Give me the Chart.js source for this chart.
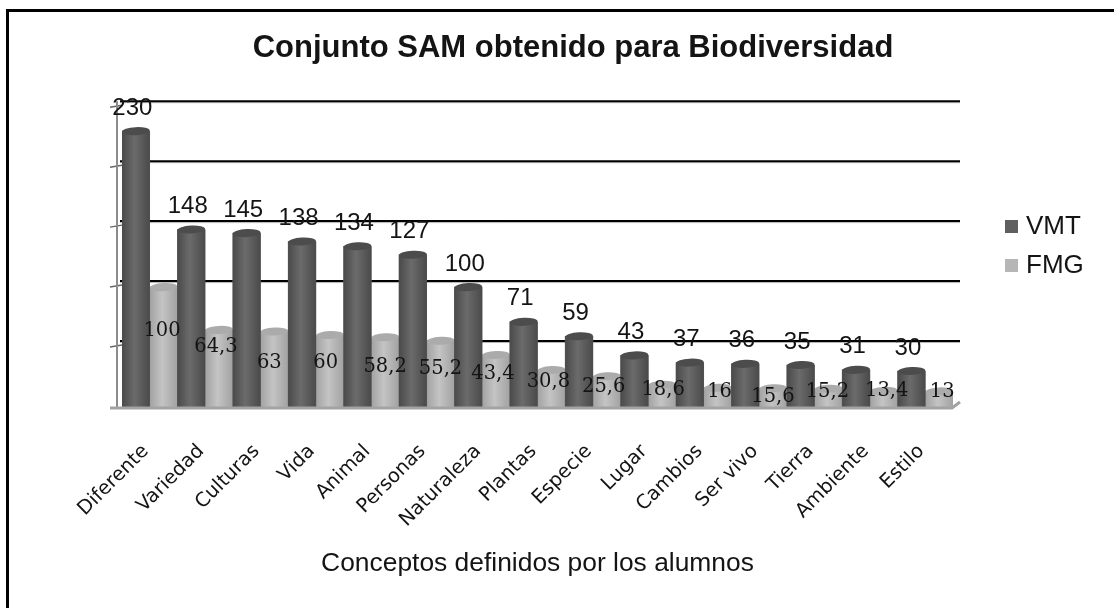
<!DOCTYPE html>
<html><head><meta charset="utf-8">
<script src="https://cdn.jsdelivr.net/npm/chart.js@4"></script>
<style>html,body{margin:0;padding:0;background:#fff;overflow:hidden}canvas{display:block}</style>
</head><body><canvas id="c" width="1114" height="608"></canvas>
<script>
const categories = ["Diferente","Variedad","Culturas","Vida","Animal","Personas","Naturaleza","Plantas","Especie","Lugar","Cambios","Ser vivo","Tierra","Ambiente","Estilo"];
const vmt = [230,148,145,138,134,127,100,71,59,43,37,36,35,31,30];
const fmg = [100,64.3,63,60,58.2,55.2,43.4,30.8,25.6,18.6,16,15.6,15.2,13.4,13];
const yTicks = [0,50,100,150,200,250];
// hand-placed FMG label nudges seen in the reference (px): sideways, and lift above the floor
const fmgLabelDx = [-1.5,-3,-5,-4,0,0,-3,-3,-3,1,2,0,-1,3,3];
const fmgLabelLift = [76,60,44,44,40,38,33,25,20,17,15,10,15,16,15];

const fmtComma = v => String(v).replace('.', ',');
const SANS = '"Liberation Sans", Arial, sans-serif';
const INK = '#141414';

function shade(ctx, el, edge, mid, topFill){
  const hw = el.width/2, l = el.x-hw, r = el.x+hw;
  const g = ctx.createLinearGradient(l,0,r,0);
  g.addColorStop(0, edge); g.addColorStop(0.45, mid); g.addColorStop(1, edge);
  ctx.fillStyle = g;
  ctx.fillRect(l, el.y, el.width, el.base-el.y);
  ctx.fillStyle = topFill;
  ctx.beginPath(); ctx.ellipse(el.x, el.y, hw, 4, -0.05, 0, Math.PI*2); ctx.fill();
}

const cylinder3d = {
  id:'cylinder3d',
  beforeLayout(chart){
    const L = chart.legend;
    if(!L._wide){ L._wide = true;
      const fit = L.fit;
      L.fit = function(){ fit.call(this); this.width = 161; };
    }
  },
  afterLayout(chart){
    const L = chart.legend;
    L.left = 997; L.top -= 58; L.bottom -= 58;
  },
  beforeDraw(chart){
    const c = chart.ctx;
    c.save(); c.fillStyle='#fff'; c.fillRect(0,0,chart.width,chart.height);
    c.fillStyle='#000';
    c.fillRect(6,9,chart.width-6,3);
    c.fillRect(6,9,3,chart.height-9);
    c.restore();
  },
  beforeDatasetsDraw(chart){
    const c = chart.ctx, y = chart.scales.y, a = chart.chartArea;
    c.save();
    y.ticks.forEach(t=>{
      const py = y.getPixelForValue(t.value);
      if(t.value>0){
        c.strokeStyle='#b5b5b5'; c.lineWidth=1;
        c.beginPath(); c.moveTo(a.left-2,py-4.5); c.lineTo(960,py-4.5); c.stroke();
        c.strokeStyle='#000'; c.lineWidth=2;
        c.beginPath(); c.moveTo(a.left-2,py-6); c.lineTo(960,py-6); c.stroke();
        c.strokeStyle='#666'; c.lineWidth=1.5;
        c.beginPath(); c.moveTo(a.left-12,py); c.lineTo(a.left,py-2); c.stroke();
      }
    });
    c.strokeStyle='#8c8c8c'; c.lineWidth=2;
    c.beginPath(); c.moveTo(a.left-5,y.getPixelForValue(250)-6); c.lineTo(a.left-5,a.bottom); c.stroke();
    c.restore();
  },
  afterDatasetDraw(chart,args){
    const c = chart.ctx, meta = chart.getDatasetMeta(args.index);
    c.save();
    meta.data.forEach(el=>{
      if(args.index===0) shade(c,el,'#4a4a4a','#6b6b6b','#4c4c4c');
      else shade(c,el,'#a2a2a2','#c4c4c4','#ababab');
    });
    c.restore();
  },
  afterDatasetsDraw(chart){
    const c = chart.ctx, a = chart.chartArea;
    c.save();
    c.strokeStyle='#a3a3a3'; c.lineWidth=3;
    c.beginPath(); c.moveTo(a.left-12,a.bottom+1); c.lineTo(952,a.bottom+1); c.lineTo(960,a.bottom-5); c.stroke();
    c.textAlign='center'; c.textBaseline='middle';
    c.fillStyle=INK;
    c.font='19.5px "DejaVu Serif", serif';
    chart.getDatasetMeta(1).data.forEach((el,i)=>{
      c.fillText(fmtComma(fmg[i]), el.x+fmgLabelDx[i], a.bottom-fmgLabelLift[i]);
    });
    c.font='24px '+SANS;
    chart.getDatasetMeta(0).data.forEach((el,i)=>{
      c.fillText(String(vmt[i]), el.x-3.5, el.y-23);
    });
    c.restore();
  }
};

new Chart(document.getElementById('c').getContext('2d'),{
  type:'bar',
  data:{labels:categories,datasets:[
    {label:'VMT',data:vmt,backgroundColor:'#5f5f5f',barPercentage:1,categoryPercentage:1},
    {label:'FMG',data:fmg,backgroundColor:'#b6b6b6',barPercentage:1,categoryPercentage:1}
  ]},
  plugins:[cylinder3d],
  options:{
    responsive:false,animation:false,
    layout:{padding:{left:32,right:0,top:0,bottom:0}},
    plugins:{
      tooltip:{enabled:false},
      title:{display:true,text:'Conjunto SAM obtenido para Biodiversidad',color:INK,
        font:{family:SANS,size:31,weight:'bold'},padding:{top:30,bottom:40}},
      legend:{display:true,position:'right',align:'center',
        labels:{color:INK,font:{family:SANS,size:26},boxWidth:3,boxHeight:3,padding:13,
          generateLabels(chart){
            return Chart.defaults.plugins.legend.labels.generateLabels(chart).map(it=>{
              it.lineWidth=10; it.strokeStyle=it.fillStyle; return it;});
          }}}
    },
    scales:{
      x:{grid:{display:false},border:{display:false},
        afterFit(s){s.height=201;},
        ticks:{color:INK,font:{family:'"DejaVu Sans", sans-serif',size:19.5},maxRotation:45,minRotation:45,autoSkip:false,padding:25,labelOffset:-4},
        title:{display:true,text:'Conceptos definidos por los alumnos',color:INK,font:{family:SANS,size:26.4},padding:{top:4,bottom:28}}},
      y:{min:0,max:250,grid:{display:false},border:{display:false},
        afterFit(s){s.width=90;},
        afterBuildTicks(s){s.ticks=yTicks.map(v=>({value:v}));},
        ticks:{display:false}}
    }
  }
});
</script></body></html>
